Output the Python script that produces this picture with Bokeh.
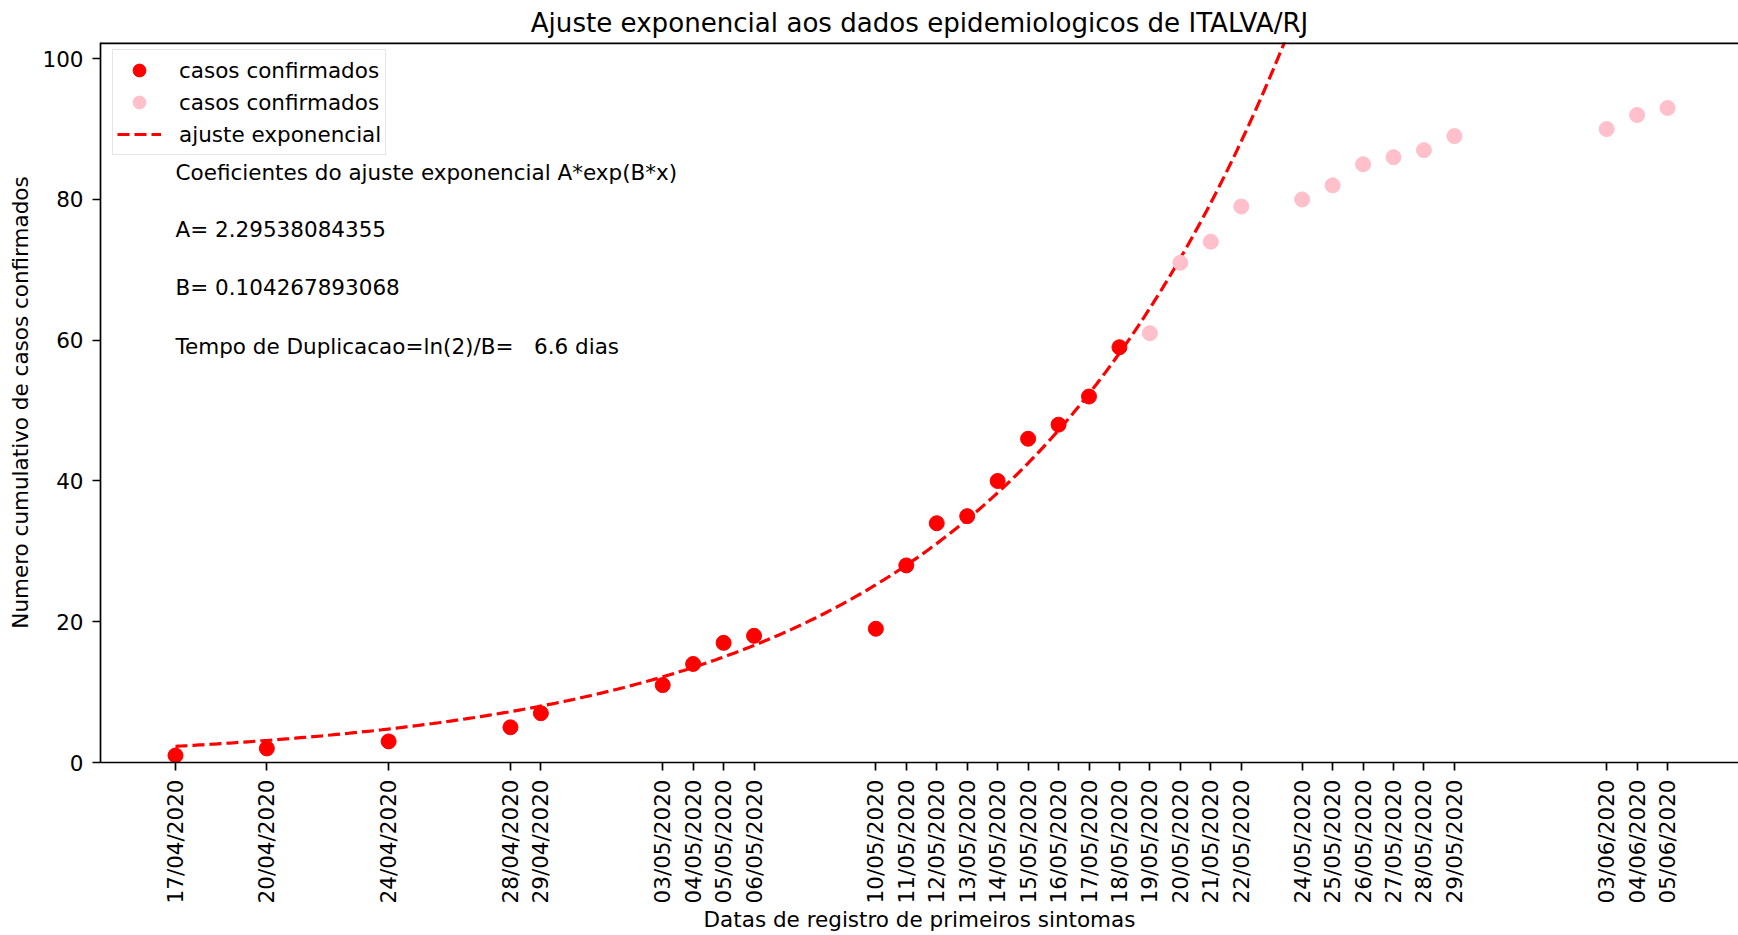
import numpy as np
import pandas as pd
from bokeh.plotting import figure
from bokeh.models import Range1d, FixedTicker, Legend, LegendItem, Label, Span
from bokeh.embed import file_html
from bokeh.resources import INLINE

# ---------------- data ----------------
red_dates = ["17/04/2020", "20/04/2020", "24/04/2020", "28/04/2020", "29/04/2020",
             "03/05/2020", "04/05/2020", "05/05/2020", "06/05/2020", "10/05/2020",
             "11/05/2020", "12/05/2020", "13/05/2020", "14/05/2020", "15/05/2020",
             "16/05/2020", "17/05/2020", "18/05/2020"]
red_cases = [1, 2, 3, 5, 7, 11, 14, 17, 18, 19, 28, 34, 35, 40, 46, 48, 52, 59]

pink_dates = ["19/05/2020", "20/05/2020", "21/05/2020", "22/05/2020", "24/05/2020",
              "25/05/2020", "26/05/2020", "27/05/2020", "28/05/2020", "29/05/2020",
              "03/06/2020", "04/06/2020", "05/06/2020"]
pink_cases = [61, 71, 74, 79, 80, 82, 85, 86, 87, 89, 90, 92, 93]

fit_A = 2.29538084355
fit_B = 0.104267893068
y_ticks = [0, 20, 40, 60, 80, 100]

title_text = "Ajuste exponencial aos dados epidemiologicos de ITALVA/RJ"
xlabel_text = "Datas de registro de primeiros sintomas"
ylabel_text = "Numero cumulativo de casos confirmados"
legend_labels = ["casos confirmados", "casos confirmados", "ajuste exponencial"]
info_lines = ["Coeficientes do ajuste exponencial A*exp(B*x)",
              "A= 2.29538084355",
              "B= 0.104267893068",
              "Tempo de Duplicacao=ln(2)/B=\u00a0\u00a0\u00a06.6 dias"]

# ---------------- derived ----------------
t0 = pd.to_datetime(red_dates[0], format="%d/%m/%Y")


def to_days(ds):
    return [int((pd.to_datetime(d, format="%d/%m/%Y") - t0).days) for d in ds]


red_x = to_days(red_dates)
pink_x = to_days(pink_dates)
all_x = red_x + pink_x
all_labels = red_dates + pink_dates

fit_x = np.linspace(0, max(all_x), 500)
fit_y = fit_A * np.exp(fit_B * fit_x)

FONT = "DejaVu Sans"
FS = "21.5px"
FS_TITLE = "26.1px"

X0, X1 = -2.463, 51.33
Y0, Y1 = 0, 102.3

p = figure(width=1738, height=935, output_backend="svg", toolbar_location=None,
           title=title_text,
           x_range=Range1d(X0, X1), y_range=Range1d(Y0, Y1),
           min_border_left=100, min_border_right=0, min_border_top=42, min_border_bottom=172,
           background_fill_color="white", border_fill_color="white",
           outline_line_color=None)
p.grid.visible = False

p.title.text_font = FONT
p.title.text_font_size = FS_TITLE
p.title.text_font_style = "normal"
p.title.text_color = "black"
p.title.align = "center"
p.title.standoff = 10

# ---------------- glyphs ----------------
r_fit = p.line(fit_x, fit_y, line_color="red", line_width=3.2, line_dash="12 5")
r_red = p.scatter(red_x, red_cases, size=15, fill_color="red", line_color="red")
r_pink = p.scatter(pink_x, pink_cases, size=15, fill_color="pink", line_color="pink")

# ---------------- axes ----------------
xa = p.xaxis[0]
xa.ticker = FixedTicker(ticks=all_x)
xa.major_label_overrides = {x: lab for x, lab in zip(all_x, all_labels)}
xa.major_label_orientation = np.pi / 2
xa.axis_label = xlabel_text
ya = p.yaxis[0]
ya.ticker = FixedTicker(ticks=y_ticks)
ya.axis_label = ylabel_text

for ax in (xa, ya):
    ax.axis_line_color = "black"
    ax.axis_line_width = 1.7
    ax.major_tick_line_color = "black"
    ax.major_tick_line_width = 1.7
    ax.major_tick_out = 8
    ax.major_tick_in = 0
    ax.minor_tick_line_color = None
    ax.major_label_text_font = FONT
    ax.major_label_text_font_size = FS
    ax.major_label_text_color = "black"
    ax.axis_label_text_font = FONT
    ax.axis_label_text_font_size = FS
    ax.axis_label_text_font_style = "normal"
    ax.axis_label_text_color = "black"

xa.major_label_standoff = 9
xa.axis_label_standoff = 1
ya.major_label_standoff = 9
ya.axis_label_standoff = 6

# top spine (half of the line falls inside the frame)
p.add_layout(Span(location=Y1, dimension="width", line_color="black", line_width=3.4))

# ---------------- legend ----------------
legend = Legend(items=[LegendItem(label=legend_labels[0], renderers=[r_red]),
                       LegendItem(label=legend_labels[1], renderers=[r_pink]),
                       LegendItem(label=legend_labels[2], renderers=[r_fit])],
                location=(12, 607), margin=0, padding=4,
                glyph_width=44, glyph_height=32, label_height=32, spacing=0,
                label_standoff=18,
                label_text_font=FONT, label_text_font_size=FS, label_text_color="black",
                border_line_color="#cccccc", border_line_width=1.5,
                background_fill_color="white", background_fill_alpha=0.8)
p.add_layout(legend)

# ---------------- texts ----------------
info_y = [83.83, 75.70, 67.48, 59.11]
for txt, yy in zip(info_lines, info_y):
    p.add_layout(Label(x=0, y=yy, text=txt, text_align="left", text_baseline="middle",
                       text_font=FONT, text_font_size=FS, text_color="black"))

open("out.html", "w").write(file_html(p, INLINE))
